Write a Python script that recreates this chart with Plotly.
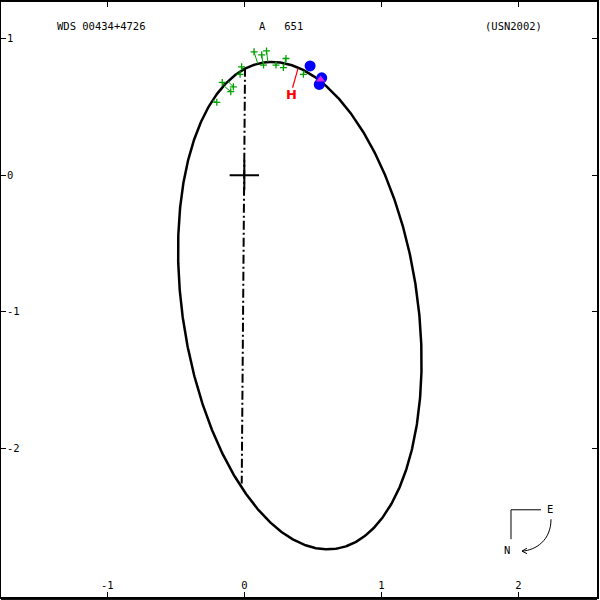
import numpy as np
import plotly.graph_objects as go

# ---- data (arcsec) ----
orbit_center = [0.405, -0.955]
orbit_axes = [1.80, 0.858]          # semi-major, semi-minor of apparent ellipse
orbit_tilt_deg = 98.4               # direction of major axis from +x

node_x = [0.005, -0.019]            # line of nodes end points
node_y = [0.787, -2.258]

obs_x = [0.071, 0.127, 0.162, 0.140, 0.231, 0.285, 0.304, -0.020, -0.031,
         -0.161, -0.099, -0.080, -0.201, 0.431]
obs_y = [0.904, 0.882, 0.911, 0.807, 0.807, 0.789, 0.855, 0.794, 0.739,
         0.680, 0.612, 0.648, 0.534, 0.739]

speckle_x = [0.480, 0.565, 0.547]
speckle_y = [0.801, 0.714, 0.665]

tri_x = [0.556]
tri_y = [0.702]

hip_x = [0.352]
hip_y = [0.641]
hip_pred_x = [0.392]
hip_pred_y = [0.783]

primary_x = [0.0]
primary_y = [0.0]

x_tickvals = [-1, 0, 1, 2]
x_ticktext = ["-1", "0", "1", "2"]
y_tickvals = [1, 0, -1, -2, -3]
y_ticktext = ["1", "0", "-1", "-2", "-3"]

title_left = "WDS 00434+4726"
title_mid = "A\u00a0\u00a0\u00a0651"
title_right = "(USN2002)"

# ---- orbit curve ----
t = np.linspace(0, 2 * np.pi, 721)
th = np.radians(orbit_tilt_deg)
a, b = orbit_axes
ex = orbit_center[0] + a * np.cos(th) * np.cos(t) - b * np.sin(th) * np.sin(t)
ey = orbit_center[1] + a * np.sin(th) * np.cos(t) + b * np.cos(th) * np.sin(t)

# O-C lines to nearest point of orbit
ocx, ocy = [], []
for x0, y0 in zip(obs_x, obs_y):
    i = int(np.argmin((ex - x0) ** 2 + (ey - y0) ** 2))
    ocx += [x0, float(ex[i]), None]
    ocy += [y0, float(ey[i]), None]

GREEN = "#00a000"
fig = go.Figure()
fig.add_trace(go.Scatter(x=ex, y=ey, mode="lines",
                         line=dict(color="black", width=2.5), hoverinfo="skip"))
fig.add_trace(go.Scatter(x=node_x, y=node_y, mode="lines",
                         line=dict(color="black", width=2, dash="9px,3px,2px,3px"),
                         hoverinfo="skip"))
fig.add_trace(go.Scatter(x=ocx, y=ocy, mode="lines",
                         line=dict(color=GREEN, width=1), hoverinfo="skip"))
fig.add_trace(go.Scatter(x=obs_x, y=obs_y, mode="markers",
                         marker=dict(symbol="cross-thin", size=5,
                                     line=dict(color=GREEN, width=1.3))))
fig.add_trace(go.Scatter(x=hip_x + hip_pred_x, y=hip_y + hip_pred_y, mode="lines",
                         line=dict(color="#ff0000", width=1.2)))
fig.add_trace(go.Scatter(x=speckle_x, y=speckle_y, mode="markers",
                         marker=dict(symbol="circle", size=11, color="#0000ff",
                                     line=dict(width=0))))
fig.add_trace(go.Scatter(x=tri_x, y=tri_y, mode="markers",
                         marker=dict(symbol="triangle-up", size=8, color="#e020e0",
                                     line=dict(width=0))))
fig.add_trace(go.Scatter(x=primary_x, y=primary_y, mode="markers",
                         marker=dict(symbol="cross-thin", size=21,
                                     line=dict(color="black", width=2))))

fig.add_annotation(x=hip_x[0], y=hip_y[0], text="<b>H</b>", showarrow=False,
                   yshift=-7, xshift=-1, xanchor="center", yanchor="middle",
                   font=dict(family="DejaVu Sans", size=13, color="#ff0000"))

mono = "DejaVu Sans Mono"


def px(xp, yp):
    return (xp - 1) / 596.0, (597 - yp) / 597.0


for txt, xp in [(title_left, 101.5), (title_mid, 281), (title_right, 513)]:
    X, Y = px(xp, 24)
    fig.add_annotation(x=X, y=Y, xref="paper", yref="paper", text=txt,
                       xanchor="center", yanchor="middle",
                       showarrow=False, font=dict(family=mono, size=10.5, color="black"))

# compass
for txt, (xp, yp) in [("E", (550, 509)), ("N", (507, 550))]:
    X, Y = px(xp, yp)
    fig.add_annotation(x=X, y=Y, xref="paper", yref="paper", text=txt,
                       xanchor="center", yanchor="middle",
                       showarrow=False, font=dict(family=mono, size=10.5, color="black"))

shapes = []
pts = [(541, 509.5), (511, 509.5), (511, 539)]
path = "M " + " L ".join(f"{px(*p)[0]:.5f},{px(*p)[1]:.5f}" for p in pts)
shapes.append(dict(type="path", xref="paper", yref="paper", path=path,
                   line=dict(color="black", width=1)))
c = [(551, 519), (551, 540), (536, 550), (522, 551)]
cp = [px(*p) for p in c]
path = (f"M {cp[0][0]:.5f},{cp[0][1]:.5f} C {cp[1][0]:.5f},{cp[1][1]:.5f} "
        f"{cp[2][0]:.5f},{cp[2][1]:.5f} {cp[3][0]:.5f},{cp[3][1]:.5f}")
shapes.append(dict(type="path", xref="paper", yref="paper", path=path,
                   line=dict(color="black", width=1)))
ah = [(527, 548), (522, 551), (527, 553.5)]
path = "M " + " L ".join(f"{px(*p)[0]:.5f},{px(*p)[1]:.5f}" for p in ah)
shapes.append(dict(type="path", xref="paper", yref="paper", path=path,
                   line=dict(color="black", width=1)))
# second bottom rule
shapes.append(dict(type="line", xref="paper", yref="paper", x0=0, x1=1,
                   y0=px(0, 599.6)[1], y1=px(0, 599.6)[1],
                   line=dict(color="black", width=1)))

axis_common = dict(showgrid=False, zeroline=False, showline=True, linecolor="black",
                   linewidth=2, mirror="ticks", ticks="inside", ticklen=5,
                   tickwidth=1, tickcolor="black", ticklabelposition="inside",
                   tickfont=dict(family=mono, size=10.5, color="black"))

fig.update_layout(
    width=600, height=600,
    margin=dict(l=1, r=3, t=0, b=3),
    paper_bgcolor="white", plot_bgcolor="white",
    showlegend=False,
    shapes=shapes,
    xaxis=dict(range=[-1.776, 2.574], tickvals=x_tickvals, ticktext=x_ticktext,
               **axis_common),
    yaxis=dict(range=[-3.089, 1.269], tickvals=y_tickvals, ticktext=y_ticktext,
               **axis_common),
)

fig.write_html("out.html",
               config={"displayModeBar": False},
               post_script="document.body.style.margin='0';"
                           "document.body.style.overflow='hidden';")
